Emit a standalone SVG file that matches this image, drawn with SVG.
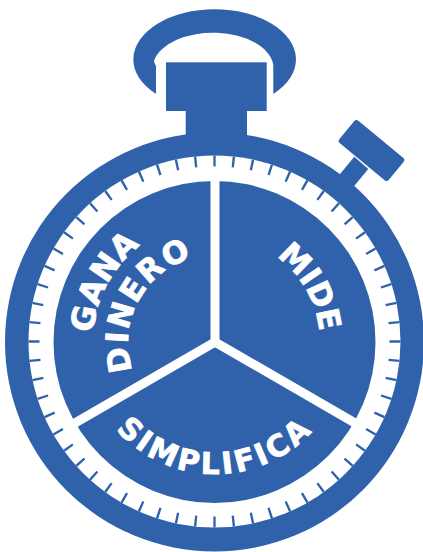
<svg xmlns="http://www.w3.org/2000/svg" width="423" height="552" viewBox="0 0 423 552">
<style>
.b{fill:#3062ab}
.d{stroke:#fff;stroke-width:9;fill:none;stroke-linejoin:miter}
.t{font-family:"DejaVu Sans","Liberation Sans",sans-serif;font-weight:700;fill:#fff;stroke:#fff;stroke-width:.8;text-anchor:middle}
</style>
<defs>
<path id="pGana" d="M 154 447.7 A 122 122 0 0 1 276 236.3"/>
<path id="pDinero" d="M 171 418.2 A 88 88 0 0 1 259 265.8"/>
<path id="pMide" d="M 215 237 A 105 105 0 0 1 215 447"/>
<path id="pSimp" d="M 83 342 A 132 132 0 0 0 347 342"/>
</defs>
<rect width="423" height="552" fill="#fff"/>
<g id="ring-handle">
<path class="b" d="M156 94A81.3 50 0 1 1 273.3 94V65A60.5 35.5 0 0 0 154 60.5Q154 63 156 66Z"/>
</g>
<g id="crown">
<rect class="b" x="166" y="62.3" width="100.7" height="48.7"/>
<rect class="b" x="185.7" y="100" width="61.3" height="50"/>
</g>
<g id="pusher">
<polygon class="b" points="354.3,156.7 368.3,169 345,197 331,185"/>
<rect class="b" x="339.5" y="136" width="64" height="29" rx="3" transform="rotate(39.5 371.5 150.5)"/>
</g>
<g id="dial">
<circle class="b" cx="214.5" cy="342" r="209.5"/>
<circle cx="214.5" cy="341.5" r="186" fill="#fff"/>
<circle cx="214.5" cy="341.5" r="180.5" fill="none" stroke="#3062ab" stroke-width="11" pathLength="360" stroke-dasharray="0.75 5.25" stroke-dashoffset="0.375"/>
<circle class="b" cx="214.5" cy="342" r="161"/>
</g>
<g id="connectors">
<path class="d" d="M215 181V342M75 423L215 342L355 423"/>
</g>
<g id="gana-dinero">
<text class="t" font-size="32"><textPath href="#pGana" startOffset="49%">GANA</textPath></text>
<text class="t" font-size="31" letter-spacing="1.5"><textPath href="#pDinero" startOffset="49%">DINERO</textPath></text>
</g>
<g id="mide">
<text class="t" font-size="31"><textPath href="#pMide" startOffset="33.3%">MIDE</textPath></text>
</g>
<g id="simplifica">
<text class="t" font-size="30" letter-spacing="3.2"><textPath href="#pSimp" startOffset="50%">SIMPLIFICA</textPath></text>
</g>
</svg>
